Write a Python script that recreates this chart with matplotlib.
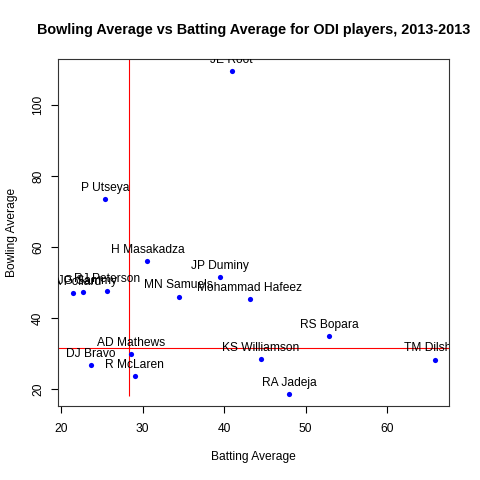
import matplotlib
matplotlib.use("Agg")
import matplotlib.pyplot as plt

plt.rcParams["font.family"] = ["Liberation Sans", "DejaVu Sans"]

# donnees
players = ["JE Root", "P Utseya", "H Masakadza", "JP Duminy", "KA Pollard",
           "DJG Sammy", "RJ Peterson", "MN Samuels", "Mohammad Hafeez",
           "AD Mathews", "DJ Bravo", "R McLaren", "RS Bopara", "TM Dilshan",
           "KS Williamson", "RA Jadeja"]
batting = [40.92, 25.42, 30.58, 39.45, 21.45, 22.72, 25.62, 34.42, 43.13,
           28.56, 23.62, 29.02, 52.86, 65.83, 44.52, 48.00]
bowling = [109.6, 73.6, 56.0, 51.5, 47.0, 47.3, 47.8, 46.1, 45.4,
           29.9, 26.8, 23.7, 34.9, 28.3, 28.4, 18.7]

ref_batting = 28.32
ref_bowling = 31.7
ref_bottom = 18.0

x_ticks = [20, 30, 40, 50, 60]
y_ticks = [20, 40, 60, 80, 100]

fig = plt.figure(figsize=(4.8, 4.8), dpi=100)
ax = fig.add_axes([0.1208, 0.1542, 0.8146, 0.7229])

ax.scatter(batting, bowling, s=14, color="blue", zorder=3, linewidths=0)
for name, bx, by in zip(players, batting, bowling):
    ax.annotate(name, (bx, by), xytext=(0, 8.2), textcoords="offset points",
                ha="center", va="center", fontsize=8.64, color="black",
                clip_on=True)

ax.axhline(ref_bowling, color="red", lw=0.8)
ax.vlines(ref_batting, ref_bottom, 130, color="red", lw=0.8)

ax.set_xlim(19.6, 67.6)
ax.set_ylim(15.3, 113.0)
ax.set_xticks(x_ticks)
ax.set_yticks(y_ticks)
ax.tick_params(direction="out", length=5, width=0.8, labelsize=8.64)
ax.tick_params(axis="x", pad=7)
ax.tick_params(axis="y", pad=5)
for lab in ax.get_yticklabels():
    lab.set_rotation(90)
    lab.set_va("center")
for s in ax.spines.values():
    s.set_linewidth(0.8)
    s.set_color("#333333")

fig.text(0.528, 0.937, "Bowling Average vs Batting Average for ODI players, 2013-2013",
         ha="center", va="center", fontsize=10.4, fontweight="bold")
fig.text(0.528, 0.048, "Batting Average", ha="center", va="center", fontsize=8.64)
fig.text(0.024, 0.515, "Bowling Average", ha="center", va="center",
         fontsize=8.64, rotation=90)

plt.savefig("out.png", dpi=100)
